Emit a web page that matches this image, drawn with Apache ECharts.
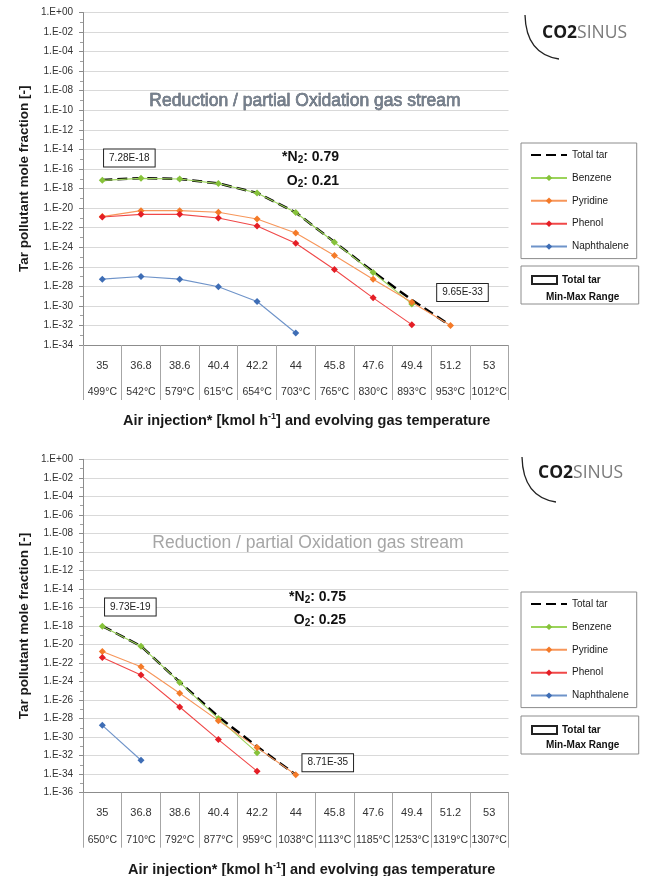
<!DOCTYPE html>
<html>
<head>
<meta charset="utf-8">
<script src="https://cdn.jsdelivr.net/npm/echarts@6/dist/echarts.min.js"></script>
<style>html,body{margin:0;padding:0;background:#fff}#c{width:645px;height:876px}</style>
</head>
<body>
<div id="c"></div>
<script>
// ---------- data ----------
const categories = ['35','36.8','38.6','40.4','42.2','44','45.8','47.6','49.4','51.2','53'];
const tempsTop = ['499°C','542°C','579°C','615°C','654°C','703°C','765°C','830°C','893°C','953°C','1012°C'];
const tempsBottom = ['650°C','710°C','792°C','877°C','959°C','1038°C','1113°C','1185°C','1253°C','1319°C','1307°C'];
const seriesNames = ['Total tar','Benzene','Pyridine','Phenol','Naphthalene'];
const rangeName = 'Total tar Min-Max Range';

// chart 1: N2 0.79 / O2 0.21  (mole fractions)
const totalTarTop   = [7.28e-18, 1.15e-17, 9.6e-18, 3.3e-18, 3.6e-19, 3.5e-21, 3.4e-24, 3.1e-27, 4.1e-30, 9.65e-33];
const benzeneTop    = [6.9e-18, 1.1e-17, 9.3e-18, 3.2e-18, 3.5e-19, 3.5e-21, 3.2e-24, 2.6e-27, 1.6e-30];
const pyridineTop   = [1.35e-21, 5.5e-21, 5.5e-21, 3.7e-21, 7.8e-22, 2.9e-23, 1.4e-25, 5.4e-28, 2.4e-30, 9.65e-33];
const phenolTop     = [1.23e-21, 2.3e-21, 2.3e-21, 9.8e-22, 1.5e-22, 2.5e-24, 5.2e-27, 6.6e-30, 1.2e-32];
const naphthaleneTop= [5.4e-28, 1.0e-27, 5.4e-28, 8.9e-29, 2.8e-30, 1.7e-33];

// chart 2: N2 0.75 / O2 0.25
const totalTarBottom   = [9.73e-19, 6.7e-21, 8.7e-25, 1.6e-28, 9.6e-32, 8.71e-35];
const benzeneBottom    = [9.2e-19, 6.6e-21, 8.1e-25, 1.0e-28, 2.1e-32];
const pyridineBottom   = [1.8e-21, 4.0e-23, 5.4e-26, 6.0e-29, 7.4e-32, 8.71e-35];
const phenolBottom     = [4.0e-22, 5.0e-24, 1.8e-27, 5.4e-31, 2.1e-34];
const naphthaleneBottom= [1.9e-29, 3.2e-33];

// y range in decades (log10 of mole fraction)
const yMinTop = -34, yMinBottom = -36, yMax = 0, yStep = 2;

// ---------- helpers ----------
const FONT = 'Liberation Sans, Arial, sans-serif';
const colors = {
  'Benzene':    {line:'#9BD35A', mark:'#86C23A'},
  'Pyridine':   {line:'#F7965A', mark:'#F47A28'},
  'Phenol':     {line:'#F04848', mark:'#E41E26'},
  'Naphthalene':{line:'#6E93C9', mark:'#3E6DB5'}
};
function toLog(arr){ return arr.map(function(v){ return Math.log10(v); }); }
function expLabel(e){
  e = Math.round(e);
  const s = e < 0 ? '-' : '+';
  const a = Math.abs(e);
  return '1.E' + s + (a < 10 ? '0' + a : a);
}
function sci(v){ return v.toExponential(2).toUpperCase(); }

function makeAxes(idx, temps, yMin, nameGap, namePad){
  const x = {
    type:'category', gridIndex:idx, data:categories, boundaryGap:true, position:'bottom',
    axisLine:{onZero:false, lineStyle:{color:'#8c8c8c'}},
    axisTick:{show:true, interval:0, length:55, lineStyle:{color:'#a6a6a6'}},
    axisLabel:{
      interval:0, margin:7, hideOverlap:false,
      formatter:function(v,i){ return '{v|'+v+'}\n{t|'+temps[i]+'}'; },
      rich:{
        v:{fontSize:11, lineHeight:27, color:'#333', fontFamily:FONT},
        t:{fontSize:10.5, lineHeight:27, color:'#333', fontFamily:FONT}
      }
    },
    name:'{b|Air injection* [kmol h}{s|-1}{b|] and evolving gas temperature}',
    nameLocation:'middle', nameGap:nameGap, nameMoveOverlap:false,
    nameTextStyle:{
      padding:[0,0,0,namePad],
      rich:{
        b:{fontSize:14.5, fontWeight:'bold', color:'#1a1a1a', fontFamily:FONT},
        s:{fontSize:9, fontWeight:'bold', color:'#1a1a1a', fontFamily:FONT, padding:[0,0,9,0]}
      }
    }
  };
  const y = {
    type:'value', gridIndex:idx, min:yMin, max:yMax, interval:yStep,
    axisLine:{show:true, onZero:false, lineStyle:{color:'#8c8c8c'}},
    axisTick:{show:true, length:4, lineStyle:{color:'#8c8c8c'}},
    minorTick:{show:true, splitNumber:2, length:3, lineStyle:{color:'#a0a0a0'}},
    splitLine:{show:true, lineStyle:{color:'#d9d9d9', width:1}},
    axisLabel:{formatter:expLabel, fontSize:10, color:'#333', margin:10, fontFamily:FONT, showMinLabel:true, showMaxLabel:true},
    name:'Tar pollutant mole fraction [-]', nameLocation:'middle', nameGap:52, nameRotate:90, nameMoveOverlap:false,
    nameTextStyle:{fontSize:13.5, fontWeight:'bold', color:'#1a1a1a', fontFamily:FONT}
  };
  return {x:x, y:y};
}

function annotated(values, marks){
  return toLog(values).map(function(v,i){
    if (marks[i]) {
      return {value:v, label:{show:true, position:'inside', offset:marks[i],
        formatter:function(p){ return sci(values[p.dataIndex]); }, fontSize:10, color:'#222', fontFamily:FONT,
        backgroundColor:'#fff', borderColor:'#222', borderWidth:1, padding:[4,5,3,5]}};
    }
    return v;
  });
}

function makeSeries(idx, total, benz, pyr, phen, naph, marks){
  const base = {xAxisIndex:idx, yAxisIndex:idx, animation:false};
  const list = [];
  list.push(Object.assign({}, base, {
    name:'Total tar', type:'line', data:annotated(total, marks),
    symbol:'circle', symbolSize:1, itemStyle:{color:'rgba(0,0,0,0)'},
    lineStyle:{color:'#000', width:2.5, type:[10,5]}, z:2
  }));
  [['Benzene',benz],['Pyridine',pyr],['Phenol',phen],['Naphthalene',naph]].forEach(function(pair){
    const n = pair[0];
    list.push(Object.assign({}, base, {
      name:n, type:'line', data:toLog(pair[1]), symbol:'diamond', symbolSize:7,
      itemStyle:{color:colors[n].mark},
      lineStyle:{color:colors[n].line, width:1.1}, z:3
    }));
  });
  list.push(Object.assign({}, base, {
    name:rangeName, type:'line', data:[], symbol:'none',
    itemStyle:{color:'#fff', borderColor:'#222', borderWidth:1},
    lineStyle:{color:'#222', width:1}
  }));
  return list;
}

const a1 = makeAxes(0, tempsTop, yMinTop, 67, 22);
const a2 = makeAxes(1, tempsBottom, yMinBottom, 68, 32);

function legends(top1, top2){
  return [
    {orient:'vertical', left:521, top:top1, data:seriesNames, itemWidth:36, itemHeight:8, itemGap:12.9,
     padding:[7,8,7,9], borderColor:'#8c8c8c', borderWidth:1, backgroundColor:'#fff',
     selectedMode:false, textStyle:{fontSize:10, color:'#1a1a1a', fontFamily:FONT}},
    {orient:'vertical', left:521, top:top2, data:[{name:rangeName, icon:'rect'}], itemWidth:25, itemHeight:8,
     padding:[9,38,19,10], borderColor:'#8c8c8c', borderWidth:1, backgroundColor:'#fff',
     selectedMode:false, formatter:function(){ return 'Total tar'; },
     textStyle:{fontSize:10, fontWeight:'bold', color:'#111', fontFamily:FONT}}
  ];
}

function textEl(x, y, text, style){
  return {type:'text', x:x, y:y, silent:true, z:100, style:Object.assign({text:text, fontFamily:FONT}, style)};
}
function o2Texts(yN, yO, xr, n2, o2){
  const rich = {
    b:{fontSize:14, fontWeight:'bold', fill:'#111', fontFamily:FONT},
    s:{fontSize:10, fontWeight:'bold', fill:'#111', fontFamily:FONT, padding:[7,0,0,0]}
  };
  return [
    textEl(xr, yN, '{b|*N}{s|2}{b|: '+n2+'}', {align:'right', verticalAlign:'middle', rich:rich}),
    textEl(xr, yO, '{b|O}{s|2}{b|: '+o2+'}', {align:'right', verticalAlign:'middle', rich:rich})
  ];
}
function logo(x, y, arc){
  return [
    {type:'bezierCurve', silent:true, shape:arc, style:{stroke:'#222', lineWidth:1.3, fill:null}},
    textEl(x, y, '{a|CO2}{b|SINUS}', {align:'left', verticalAlign:'middle', rich:{
      a:{fontSize:17.5, fontWeight:'bold', fill:'#1a1a1a', fontFamily:'Open Sans, sans-serif'},
      b:{fontSize:17.5, fill:'#7a7a7a', fontFamily:'Open Sans, sans-serif'}
    }})
  ];
}

const graphics = [].concat(
  [textEl(305, 101, 'Reduction / partial Oxidation gas stream',
    {align:'center', verticalAlign:'middle', fontSize:17.5, fill:'#75808e', stroke:'#2e3440', lineWidth:0.5})],
  o2Texts(157, 181, 339, '0.79', '0.21'),
  logo(542, 33, {x1:525, y1:15, x2:559, y2:59, cpx1:526, cpy1:54}),
  [textEl(546, 297, 'Min-Max Range', {align:'left', verticalAlign:'middle', fontSize:10, fontWeight:'bold', fill:'#111'})],
  [textEl(308, 543, 'Reduction / partial Oxidation gas stream',
    {align:'center', verticalAlign:'middle', fontSize:17.5, fill:'#a6a6a6'})],
  o2Texts(597, 620, 346, '0.75', '0.25'),
  logo(538, 473, {x1:522, y1:457, x2:556, y2:502, cpx1:523, cpy1:497}),
  [textEl(546, 745, 'Min-Max Range', {align:'left', verticalAlign:'middle', fontSize:10, fontWeight:'bold', fill:'#111'})]
);

const L1 = legends(143, 266), L2 = legends(592, 716);
const option = {
  animation:false,
  backgroundColor:'#fff',
  grid:[
    {left:83, top:12.5, width:425.5, height:332.5, containLabel:false, outerBoundsMode:'none'},
    {left:83, top:459.3, width:425.5, height:333.4, containLabel:false, outerBoundsMode:'none'}
  ],
  xAxis:[a1.x, a2.x],
  yAxis:[a1.y, a2.y],
  legend:[L1[0], L1[1], L2[0], L2[1]],
  series:[].concat(
    makeSeries(0, totalTarTop, benzeneTop, pyridineTop, phenolTop, naphthaleneTop, {0:[27,-22], 9:[12,-33]}),
    makeSeries(1, totalTarBottom, benzeneBottom, pyridineBottom, phenolBottom, naphthaleneBottom, {0:[28,-19], 5:[32,-12]})
  ),
  graphic:graphics
};
const chart = echarts.init(document.getElementById('c'), null, {renderer:'canvas'});
chart.setOption(option);
</script>
</body>
</html>
